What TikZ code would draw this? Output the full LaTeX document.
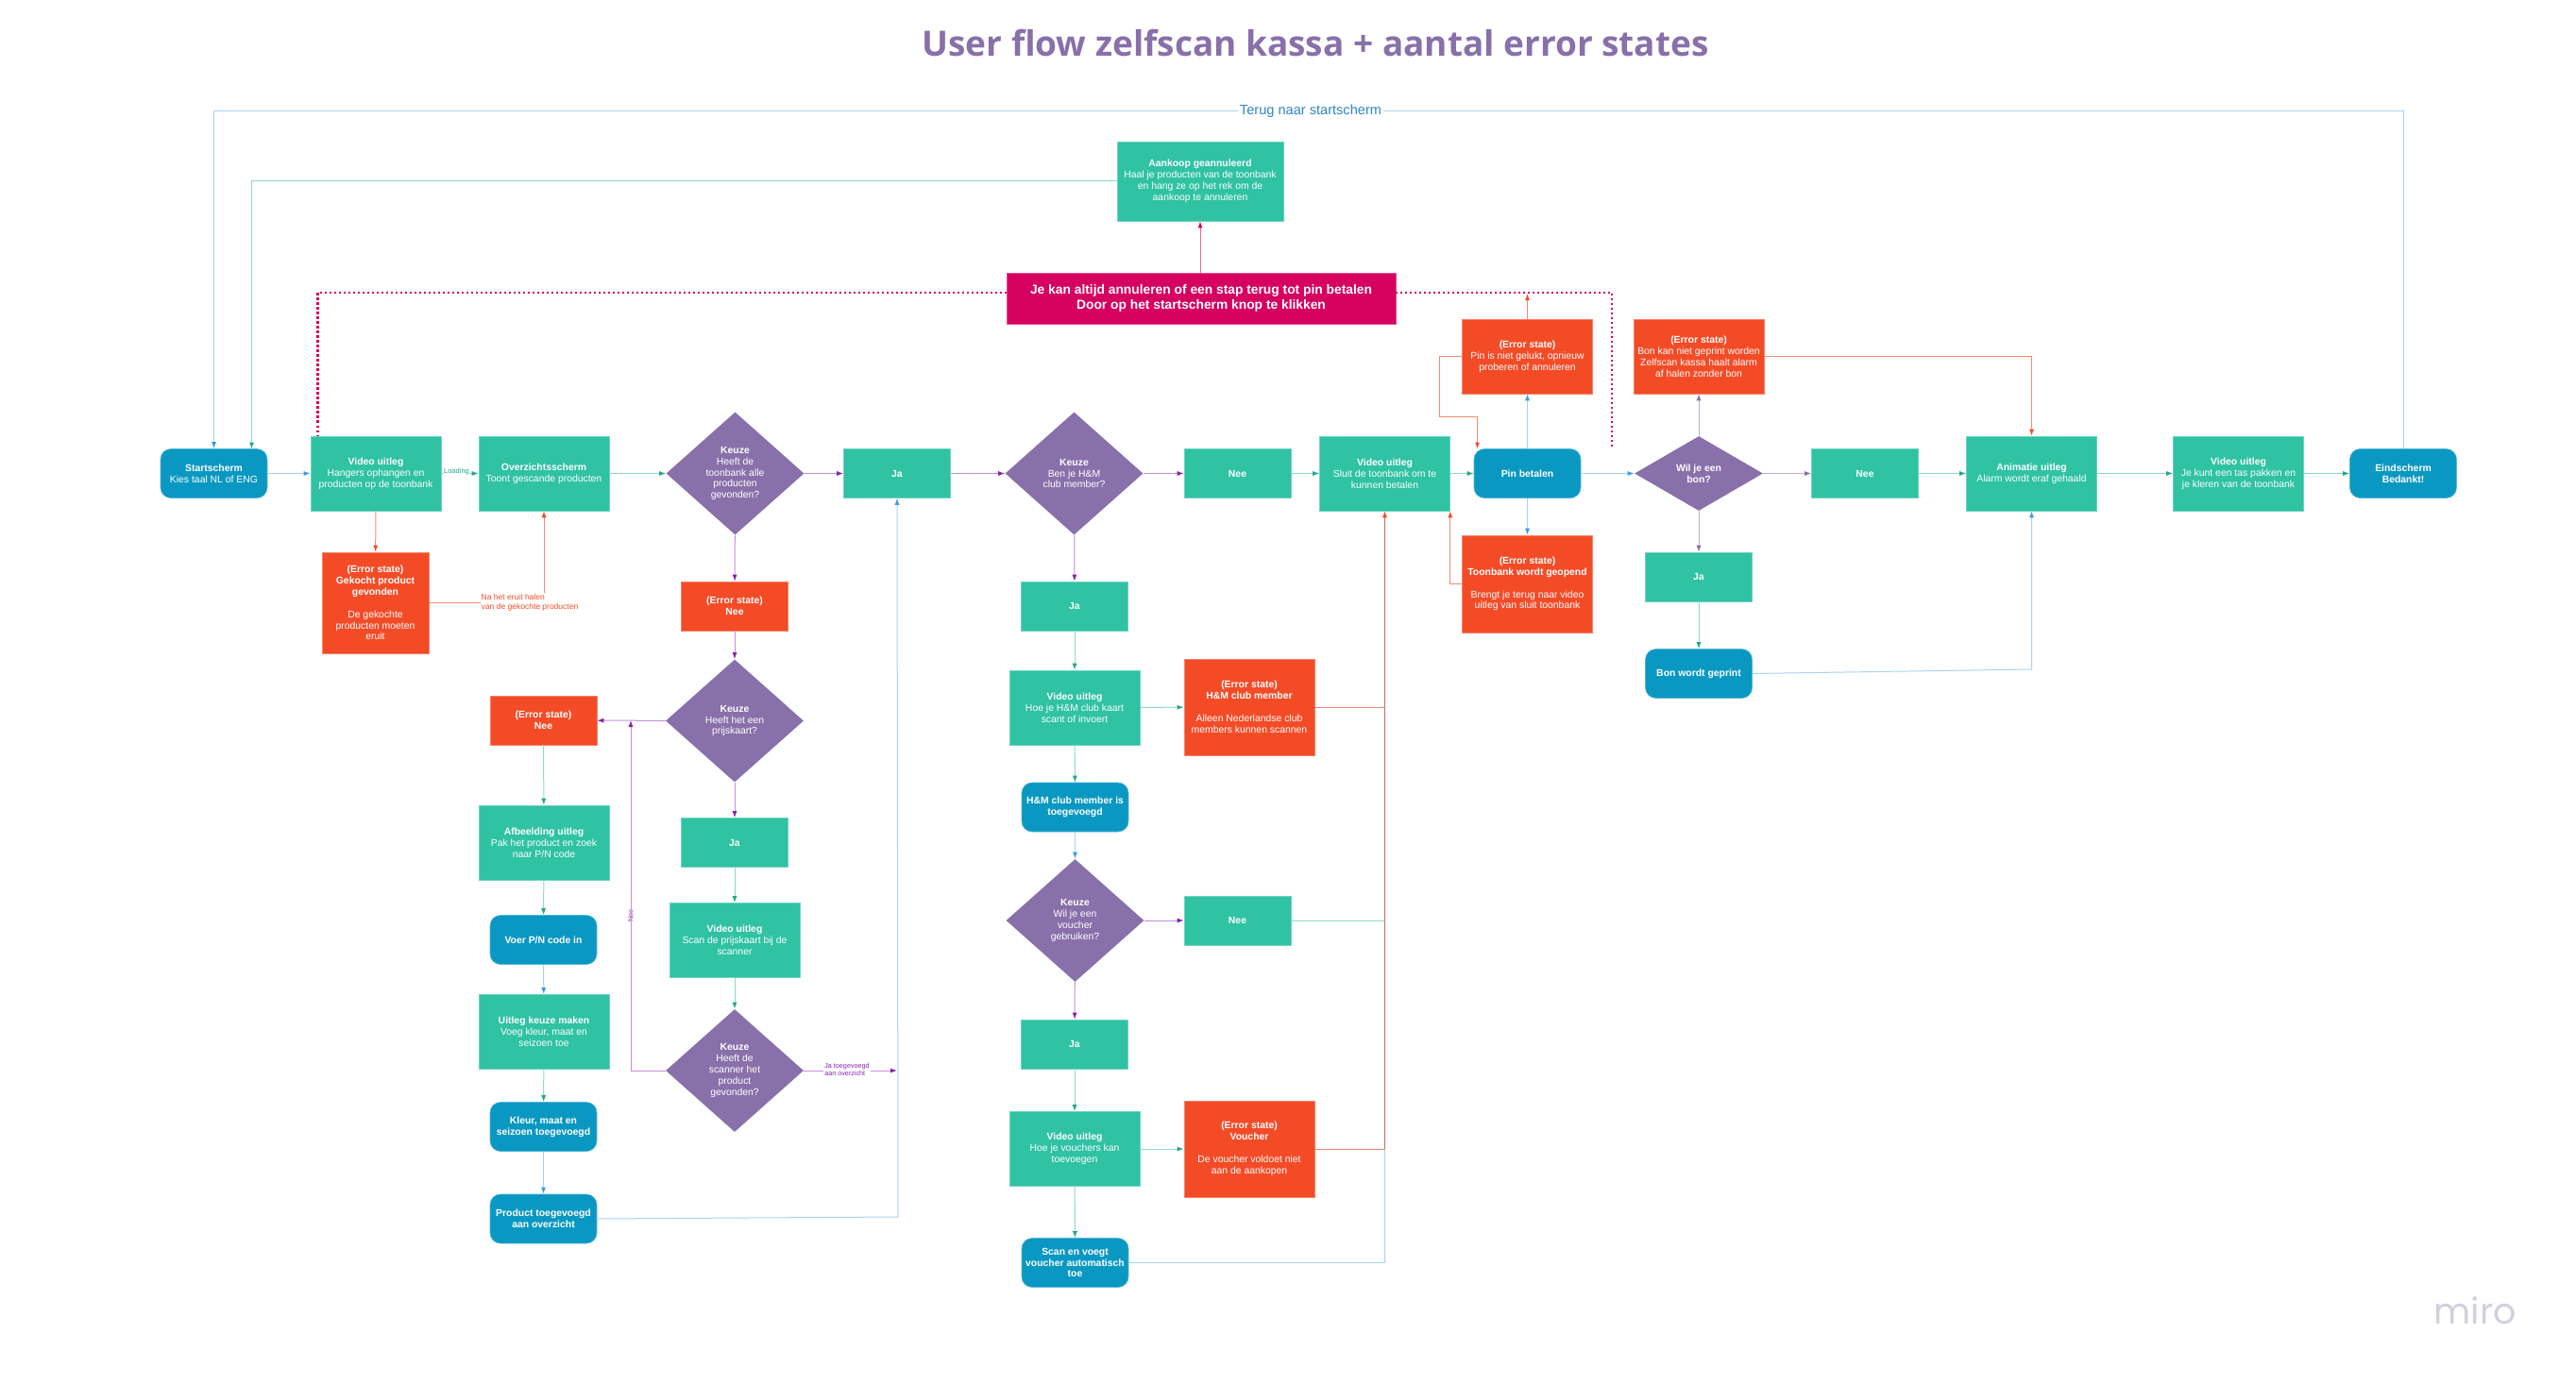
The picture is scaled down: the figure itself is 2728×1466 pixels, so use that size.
\documentclass[tikz,border=0pt]{standalone}
\usepackage{fontspec}
\setmainfont{Liberation Sans}
\newfontfamily\titelfont{Open Sans}
\newfontfamily\mirofont{Poppins}
\usetikzlibrary{arrows.meta,shapes.geometric}

\definecolor{groen}{HTML}{2FC2A3}
\definecolor{blauw}{HTML}{0A98C2}
\definecolor{paars}{HTML}{8870AA}
\definecolor{rood}{HTML}{F44B27}
\definecolor{magenta}{HTML}{D60060}
\definecolor{lijnblauw}{HTML}{A8D4EE}
\definecolor{tipblauw}{HTML}{3A9CE8}
\definecolor{lijngroen}{HTML}{8FD9C8}
\definecolor{tipgroen}{HTML}{1FA98A}
\definecolor{lijnpaars}{HTML}{C58FDC}
\definecolor{tippaars}{HTML}{8A1FB0}
\definecolor{lijnlila}{HTML}{BBAED6}
\definecolor{lijnrood}{HTML}{F08A74}
\definecolor{lijndonkerrood}{HTML}{C86A5E}
\definecolor{mirogrijs}{HTML}{D0D0DE}

\tikzset{
    blok/.style={rectangle, inner sep=0pt, align=center, text=white, line width=0.6pt,
        font=\fontsize{10.4}{11.9}\selectfont},
    groenblok/.style={blok, fill=groen, draw=groen!70!white, minimum width=138pt, minimum height=79pt},
    jablok/.style={groenblok, minimum width=113pt, minimum height=52pt},
    blauwblok/.style={blok, fill=blauw, draw=blauw!70!white, rounded corners=11pt, minimum width=113pt, minimum height=52pt},
    roodblok/.style={blok, fill=rood, draw=rood!70!white, minimum width=138pt, minimum height=79pt},
    keuze/.style={blok, diamond, fill=paars, aspect=1.115, minimum width=146pt, minimum height=130pt},
    lijn/.style={line width=1pt},
    pijlblauw/.style={lijn, draw=lijnblauw, -{Latex[length=7pt,width=5pt,color=tipblauw]}},
    pijlgroen/.style={lijn, draw=lijngroen, -{Latex[length=7pt,width=5pt,color=tipgroen]}},
    pijlpaars/.style={lijn, draw=lijnpaars, -{Latex[length=7pt,width=5pt,color=tippaars]}},
    pijllila/.style={lijn, draw=lijnlila, -{Latex[length=7pt,width=5pt,color=paars]}},
    pijlrood/.style={lijn, draw=lijnrood, -{Latex[length=7pt,width=5pt,color=rood]}},
    stippel/.style={draw=magenta, line width=2.4pt, dash pattern=on 2.4pt off 2.6pt}
}

\begin{document}
\begin{tikzpicture}[x=1pt, y=-1pt]
    \useasboundingbox (0,0) rectangle (2728,1466);

    % Titel
    \node[font=\titelfont\bfseries\fontsize{37}{44}\selectfont, text=paars] (titel) at (1393,46) {User flow zelfscan kassa + aantal error states};
    \node[font=\mirofont\fontsize{38}{40}\selectfont, text=mirogrijs] (miro) at (2621,1388) {miro};

    % Hoofdlijn
    \node[blauwblok] (start) at (226.5,501.5) {\textbf{Startscherm}\\Kies taal NL of ENG};
    \node[groenblok] (video1) at (398,501.5) {\textbf{Video uitleg}\\Hangers ophangen en\\producten op de toonbank};
    \node[groenblok] (overzicht) at (576,501.5) {\textbf{Overzichtsscherm}\\Toont gescande producten};
    \node[keuze] (keuze1) at (778.5,501.5) {\textbf{Keuze}\\Heeft de\\toonbank alle\\producten\\gevonden?};
    \node[jablok] (ja1) at (950,501.5) {\textbf{Ja}};
    \node[keuze] (keuze2) at (1137.5,501.5) {\textbf{Keuze}\\Ben je H\&M\\club member?};
    \node[jablok] (nee2) at (1310.5,501.5) {\textbf{Nee}};
    \node[groenblok] (video2) at (1466.5,501.5) {\textbf{Video uitleg}\\Sluit de toonbank om te\\kunnen betalen};
    \node[blauwblok] (pin) at (1617.5,501.5) {\textbf{Pin betalen}};
    \node[keuze, aspect=1.72, minimum width=136pt, minimum height=79pt] (keuzebon) at (1799,501.5) {\textbf{Wil je een}\\\textbf{bon?}};
    \node[jablok] (nee3) at (1975,501.5) {\textbf{Nee}};
    \node[groenblok] (animatie) at (2151.5,501.5) {\textbf{Animatie uitleg}\\Alarm wordt eraf gehaald};
    \node[groenblok] (video3) at (2370.5,501.5) {\textbf{Video uitleg}\\Je kunt een tas pakken en\\je kleren van de toonbank};
    \node[blauwblok] (eind) at (2545,501.5) {\textbf{Eindscherm}\\\textbf{Bedankt!}};

    % Annuleren
    \node[groenblok, minimum width=176pt, minimum height=84pt] (aankoop) at (1271,192) {\textbf{Aankoop geannuleerd}\\Haal je producten van de toonbank\\en hang ze op het rek om de\\aankoop te annuleren};
    \node[blok, fill=magenta, draw=magenta!70!white, minimum width=412pt, minimum height=54pt, font=\bfseries\fontsize{13.8}{15.5}\selectfont] (banner) at (1272,316) {Je kan altijd annuleren of een stap terug tot pin betalen\\Door op het startscherm knop te klikken};
    \node[font=\fontsize{14.6}{16}\selectfont, text=tipblauw!85!black, fill=white, inner xsep=2pt, inner ysep=1pt] (terug) at (1388,118) {Terug naar startscherm};

    % Error states bovenaan en onder pin
    \node[roodblok] (errpin) at (1617.5,377.5) {\textbf{(Error state)}\\Pin is niet gelukt, opnieuw\\proberen of annuleren};
    \node[roodblok, minimum height=103pt] (errtoon) at (1617.5,618.5) {\textbf{(Error state)}\\\textbf{Toonbank wordt geopend}\\[11.9pt]Brengt je terug naar video\\uitleg van sluit toonbank};
    \node[roodblok] (errbon) at (1799,377.5) {\textbf{(Error state)}\\Bon kan niet geprint worden\\Zelfscan kassa haalt alarm\\af halen zonder bon};
    \node[jablok] (jabon) at (1799,611) {\textbf{Ja}};
    \node[blauwblok] (bon) at (1799,713.5) {\textbf{Bon wordt geprint}};

    % Kolom gekocht product
    \node[roodblok, minimum width=113pt, minimum height=107pt] (errgekocht) at (397.5,638.5) {\textbf{(Error state)}\\\textbf{Gekocht product}\\\textbf{gevonden}\\[11.9pt]De gekochte\\producten moeten\\eruit};
    \node[font=\fontsize{8.5}{10.5}\selectfont, text=rood, align=left, inner sep=1pt] (nahet) at (561,638.5) {Na het eruit halen\\van de gekochte producten};

    % Kolom niet gevonden
    \node[roodblok, minimum width=113pt, minimum height=52pt] (errnee1) at (778,642) {\textbf{(Error state)}\\\textbf{Nee}};
    \node[keuze] (keuze3) at (778,763.5) {\textbf{Keuze}\\Heeft het een\\prijskaart?};
    \node[roodblok, minimum width=113pt, minimum height=52pt] (errnee2) at (575.5,763) {\textbf{(Error state)}\\\textbf{Nee}};
    \node[groenblok] (afbeelding) at (576,892.5) {\textbf{Afbeelding uitleg}\\Pak het product en zoek\\naar P/N code};
    \node[blauwblok] (voer) at (575.5,995.5) {\textbf{Voer P/N code in}};
    \node[groenblok] (uitlegkeuze) at (576,1093) {\textbf{Uitleg keuze maken}\\Voeg kleur, maat en\\seizoen toe};
    \node[blauwblok] (kleur) at (575.5,1193.5) {\textbf{Kleur, maat en}\\\textbf{seizoen toegevoegd}};
    \node[blauwblok] (product) at (575.5,1291) {\textbf{Product toegevoegd}\\\textbf{aan overzicht}};
    \node[jablok] (ja2) at (778,892.5) {\textbf{Ja}};
    \node[groenblok] (videoscan) at (778,996) {\textbf{Video uitleg}\\Scan de prijskaart bij de\\scanner};
    \node[keuze] (keuze4) at (778,1134) {\textbf{Keuze}\\Heeft de\\scanner het\\product\\gevonden?};
    \node[font=\fontsize{7.2}{8.2}\selectfont, text=tippaars, fill=white, align=left, inner sep=1pt] (jalabel) at (897,1133) {Ja toegevoegd\\aan overzicht};
    \node[font=\fontsize{7.2}{8.2}\selectfont, text=tippaars, fill=white, rotate=90, inner sep=1pt] (neelabel) at (668,970) {Nee};

    % Kolom H&M club en voucher
    \node[jablok] (jahm) at (1138,642) {\textbf{Ja}};
    \node[groenblok] (videohm) at (1138,749.5) {\textbf{Video uitleg}\\Hoe je H\&M club kaart\\scant of invoert};
    \node[roodblok, minimum height=102pt] (errhm) at (1323,749) {\textbf{(Error state)}\\\textbf{H\&M club member}\\[11.9pt]Alleen Nederlandse club\\members kunnen scannen};
    \node[blauwblok] (member) at (1138.5,855) {\textbf{H\&M club member is}\\\textbf{toegevoegd}};
    \node[keuze] (keuze5) at (1138.5,975) {\textbf{Keuze}\\Wil je een\\voucher\\gebruiken?};
    \node[jablok] (nee4) at (1310.5,975) {\textbf{Nee}};
    \node[jablok] (ja3) at (1138,1106) {\textbf{Ja}};
    \node[groenblok] (videovoucher) at (1138,1217) {\textbf{Video uitleg}\\Hoe je vouchers kan\\toevoegen};
    \node[roodblok, minimum height=102pt] (errvoucher) at (1323,1217) {\textbf{(Error state)}\\\textbf{Voucher}\\[11.9pt]De voucher voldoet niet\\aan de aankopen};
    \node[blauwblok] (scan) at (1138.5,1337.5) {\textbf{Scan en voegt}\\\textbf{voucher automatisch}\\\textbf{toe}};

    % Vrije eindpunten
    \coordinate (startin) at (266.5,475.5);
    \coordinate (stiplinks) at (336.5,462);
    \coordinate (stipbanner) at (1066,310);
    \coordinate (stipbanner2) at (1478,310);
    \coordinate (stiprechts) at (1707,474);
    \coordinate (stippin) at (1617.5,311);
    \coordinate (pinin) at (1564.5,475.5);
    \coordinate (neein) at (668,763);
    \coordinate (jain) at (950,1134);

    % Verbindingen per kleur
    \foreach \van/\naar in {start/video1, pin/errpin, pin/errtoon, pin/keuzebon, voer/uitlegkeuze, kleur/product, member/keuze5} {
        \draw[pijlblauw] (\van) -- (\naar);
    }
    \foreach \van/\naar in {video1/overzicht, overzicht/keuze1, nee2/video2, video2/pin, nee3/animatie, animatie/video3, video3/eind, jabon/bon, errnee2/afbeelding, afbeelding/voer, uitlegkeuze/kleur, ja2/videoscan, videoscan/keuze4, jahm/videohm, videohm/errhm, videohm/member, ja3/videovoucher, videovoucher/errvoucher, videovoucher/scan} {
        \draw[pijlgroen] (\van) -- (\naar);
    }
    \foreach \van/\naar in {keuze1/ja1, ja1/keuze2, keuze1/errnee1, errnee1/keuze3, keuze3/errnee2, keuze3/ja2, keuze2/nee2, keuze2/jahm, keuze5/nee4, keuze5/ja3} {
        \draw[pijlpaars] (\van) -- (\naar);
    }
    \foreach \van/\naar in {keuzebon/errbon, keuzebon/nee3, keuzebon/jabon} {
        \draw[pijllila] (\van) -- (\naar);
    }
    \draw[pijlrood] (video1) -- (errgekocht);

    % Terug naar start
    \draw[lijn, draw=lijnblauw] (eind.north) |- (terug.east);
    \draw[pijlblauw] (terug.west) -| (start.north);
    \draw[pijlgroen] (aankoop.west) -| (startin);
    \draw[pijlrood, draw=magenta!60!white, -{Latex[length=7pt,width=5pt,color=magenta]}] (banner.north -| aankoop.south) -- (aankoop.south);

    % Stippellijn
    \draw[stippel] (stipbanner) -| (stiplinks);
    \draw[stippel] (stipbanner2) -| (stiprechts);

    % Gekocht product
    \draw[lijn, draw=lijnrood] (errgekocht.east) -- (nahet.west);
    \draw[pijlrood] (nahet.north -| overzicht.south) -- (overzicht.south);

    % Niet gevonden
    \draw[pijlpaars] (keuze4.west) -| (neein);
    \draw[lijn, draw=lijnpaars] (keuze4.east) -- (jalabel.west |- keuze4.east);
    \draw[pijlpaars] (jalabel.east |- keuze4.east) -- (jain);
    \draw[pijlblauw] (product.east) -- (951,1289) -- (ja1.south);

    % Error states pin en bon
    \draw[pijlrood] (errpin.north) -- (stippin);
    \draw[pijlrood] (errpin.west) -- (1524,377.5) -- (1524,441) -| (pinin);
    \draw[pijlrood] (errtoon.west) -| (video2.south east);
    \draw[pijlrood] (errbon.east) -| (animatie.north);
    \draw[pijlblauw] (bon.east) -- (2151.5,709) -- (animatie.south);

    % Terug naar video uitleg betalen
    \draw[lijn, draw=lijnblauw] (scan.east) -| (errvoucher.east -| video2.south);
    \draw[lijn, draw=lijngroen] (nee4.east) -- (nee4.east -| video2.south);
    \draw[lijn, draw=lijnrood] (errhm.east) -- (errhm.east -| video2.south);
    \draw[pijlrood, draw=lijndonkerrood] (errvoucher.east -| video2.south) -- (video2.south);
    \draw[lijn, draw=lijnrood] (errvoucher.east) -- (errvoucher.east -| video2.south);

    % Labels op lijn
    \node[font=\fontsize{7.5}{9}\selectfont, text=tipgroen, fill=white, inner sep=0.5pt] (loading) at (483.5,499.5) {Loading};
\end{tikzpicture}
\end{document}
